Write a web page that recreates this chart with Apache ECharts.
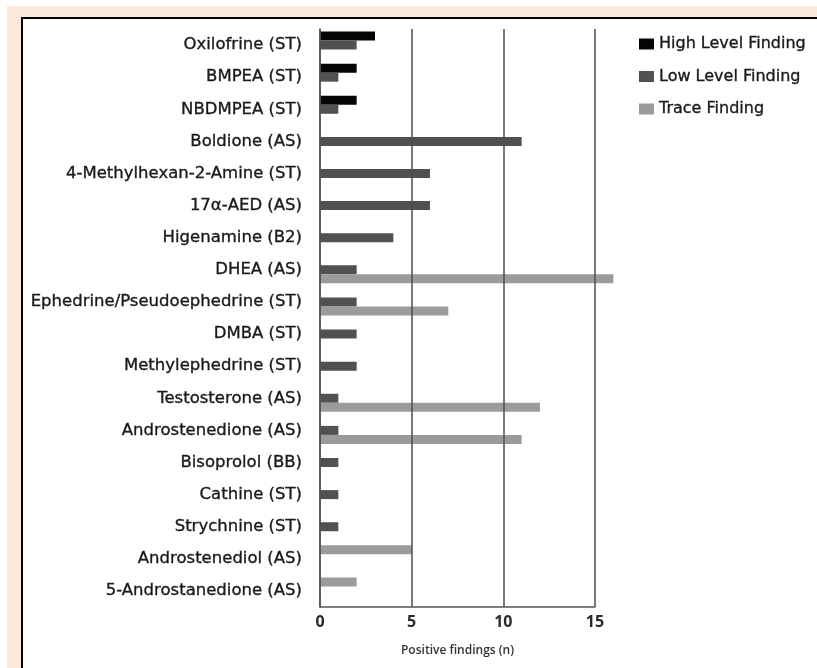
<!DOCTYPE html>
<html>
<head>
<meta charset="utf-8">
<script src="https://cdn.jsdelivr.net/npm/echarts@6/dist/echarts.min.js"></script>
<style>
  html, body { margin:0; padding:0; background:#ffffff; }
  #peach { position:absolute; left:7px; top:6px; width:810px; height:662px; background:#fce8da; }
  #panel { position:absolute; left:21px; top:17px; width:796px; height:651px; background:#ffffff;
           border-left:2px solid #000; border-top:2px solid #000; box-sizing:border-box; }
  #chart { position:absolute; left:0; top:0; width:817px; height:668px; }
</style>
</head>
<body>
<div id="peach"></div>
<div id="panel"></div>
<div id="chart"></div>
<script>
const categories = [
  'Oxilofrine (ST)', 'BMPEA (ST)', 'NBDMPEA (ST)', 'Boldione (AS)',
  '4-Methylhexan-2-Amine (ST)', '17α-AED (AS)', 'Higenamine (B2)', 'DHEA (AS)',
  'Ephedrine/Pseudoephedrine (ST)', 'DMBA (ST)', 'Methylephedrine (ST)', 'Testosterone (AS)',
  'Androstenedione (AS)', 'Bisoprolol (BB)', 'Cathine (ST)', 'Strychnine (ST)',
  'Androstenediol (AS)', '5-Androstanedione (AS)'
];
const highLevel = [3, 2, 2, 0, 0, 0, 0, 0, 0, 0, 0, 0, 0, 0, 0, 0, 0, 0];
const lowLevel  = [2, 1, 1, 11, 6, 6, 4, 2, 2, 2, 2, 1, 1, 1, 1, 1, 0, 0];
const trace     = [0, 0, 0, 0, 0, 0, 0, 16, 7, 0, 0, 12, 11, 0, 0, 0, 5, 2];
const xTicks = { min: 0, max: 15, interval: 5 };
const seriesNames = ['High Level Finding', 'Low Level Finding', 'Trace Finding'];

const colors = { high: '#050505', low: '#4f5153', trace: '#9b9b9b' };

// In the source figure, rows with only trace findings draw their bar in the upper slot.
const traceMain = trace.map((v, i) => (highLevel[i] > 0 || lowLevel[i] > 0) ? v : 0);
const traceUpper = trace.map((v, i) => (highLevel[i] > 0 || lowLevel[i] > 0) ? 0 : v);

const chart = echarts.init(document.getElementById('chart'), null, { renderer: 'canvas' });
const barCommon = { type: 'bar', barWidth: 9, barGap: '0%', z: 2, clip: false };
const labelFont = 'DejaVu Sans, Liberation Sans, sans-serif';

chart.setOption({
  animation: false,
  backgroundColor: 'transparent',
  legend: {
    orient: 'vertical',
    left: 634,
    top: 29,
    itemWidth: 15,
    itemHeight: 11,
    itemGap: 12.5,
    icon: 'rect',
    data: seriesNames,
    textStyle: { fontFamily: labelFont, fontSize: 16, color: '#1a1a1a', lineHeight: 20,
                 textBorderColor: '#1a1a1a', textBorderWidth: 0.35 }
  },
  grid: { left: 320, top: 29, width: 275, bottom: 61, containLabel: false },
  xAxis: {
    type: 'value',
    min: xTicks.min, max: xTicks.max, interval: xTicks.interval,
    z: 3,
    name: 'Positive findings (n)',
    nameLocation: 'middle',
    nameGap: 38,
    nameTextStyle: { fontFamily: 'Open Sans, sans-serif', fontSize: 12, fontWeight: 600, color: '#333' },
    axisLine: { show: true, lineStyle: { color: '#555', width: 1.5 } },
    axisTick: { show: false },
    axisLabel: { margin: 7, fontFamily: 'Open Sans, sans-serif', fontSize: 16, fontWeight: 'bold', color: '#2a2a2a' },
    splitLine: { show: true, lineStyle: { color: '#4d4d4d', width: 1.5 } }
  },
  yAxis: {
    type: 'category',
    data: categories,
    inverse: true,
    z: 3,
    axisLine: { show: true, lineStyle: { color: '#555', width: 1.5 } },
    axisTick: { show: false },
    axisLabel: { margin: 18, fontFamily: labelFont, fontSize: 16.5, color: '#1a1a1a',
                 textBorderColor: '#1a1a1a', textBorderWidth: 0.35 },
    splitLine: { show: false }
  },
  series: [
    Object.assign({}, barCommon, { name: seriesNames[0], stack: 'upper', data: highLevel, itemStyle: { color: colors.high } }),
    Object.assign({}, barCommon, { name: seriesNames[1], data: lowLevel, itemStyle: { color: colors.low } }),
    Object.assign({}, barCommon, { name: seriesNames[2], data: traceMain, itemStyle: { color: colors.trace } }),
    Object.assign({}, barCommon, { name: seriesNames[2], stack: 'upper', data: traceUpper, itemStyle: { color: colors.trace } })
  ]
});
</script>
</body>
</html>
